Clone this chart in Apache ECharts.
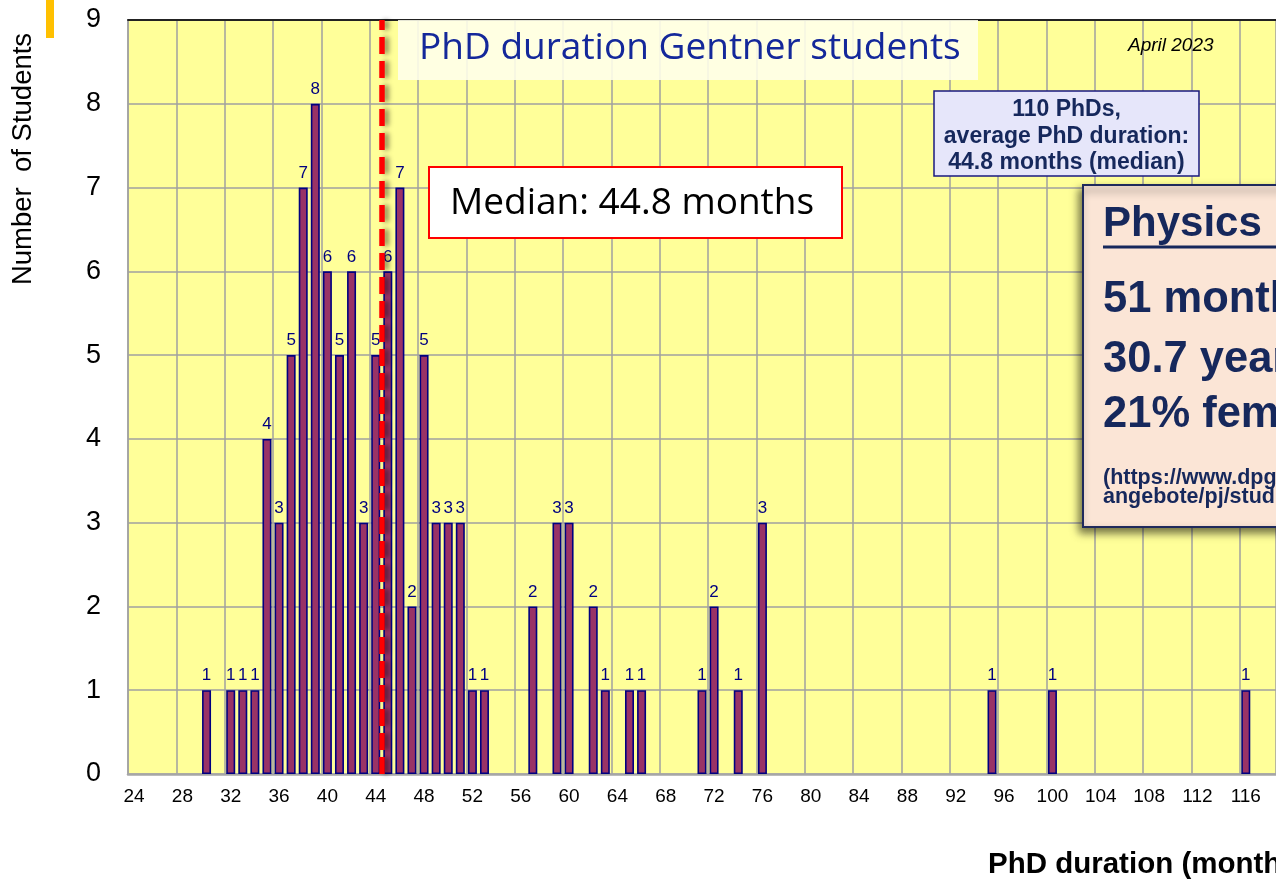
<!DOCTYPE html>
<html>
<head>
<meta charset="utf-8">
<script src="https://cdn.jsdelivr.net/npm/echarts@6/dist/echarts.min.js"></script>
<style>
html,body{margin:0;padding:0;background:#ffffff;}
#chart{width:1276px;height:881px;}
</style>
</head>
<body>
<div id="chart"></div>
<script>
// ---- data ----
const durationMonths = [30,32,33,34,35,36,37,38,39,40,41,42,43,44,45,46,47,48,49,50,51,52,53,57,59,60,62,63,65,66,71,72,74,76,95,100,116];
const studentCounts  = [1, 1, 1, 1, 4, 3, 5, 7, 8, 6, 5, 6, 3, 5, 6, 7, 2, 5, 3, 3, 3, 1, 1, 2, 3, 3, 2, 1, 1, 1, 1, 2, 1, 3, 1, 1, 1];
const axisFirstMonth = 24;
const axisLastMonth = 118;
const xLabelEvery = 4;
const yMax = 9;
const yStep = 1;
const medianLinePosition = 44.5;

const titleText = 'PhD duration Gentner students';
const medianText = 'Median: 44.8 months';
const dateText = 'April 2023';
const summaryLines = ['110 PhDs,', 'average PhD duration:', '44.8 months (median)'];
const physicsHeading = 'Physics';
const physicsLines = ['51 months', '30.7 years', '21% female'];
const sourceLines = ['(https://www.dpg-physik.de/', 'angebote/pj/studienstatistik)'];
const yAxisTitle = 'Number  of Students';
const xAxisTitle = 'PhD duration (months)';

// ---- build category table ----
const categories = [];
for (let m = axisFirstMonth; m <= axisLastMonth; m++) categories.push(String(m));
const barValues = categories.map(c => {
  const i = durationMonths.indexOf(Number(c));
  return i >= 0 ? studentCounts[i] : null;
});

const ARIAL = "'Liberation Sans', Arial, sans-serif";
const navy = '#16285c';

const chart = echarts.init(document.getElementById('chart'), null, {renderer: 'canvas'});

const option = {
  animation: false,
  backgroundColor: '#ffffff',
  grid: {
    left: 128, top: 20, right: -2, bottom: 107,
    show: true, backgroundColor: '#FFFF99', borderWidth: 0,
    containLabel: false
  },
  xAxis: [
    {
      type: 'category',
      data: categories,
      position: 'bottom',
      boundaryGap: true,
      axisLine: {show: true, onZero: false, lineStyle: {color: '#A6A6A6', width: 2.5}},
      axisTick: {show: false},
      axisLabel: {
        interval: xLabelEvery - 1, fontSize: 19, color: '#000', fontFamily: ARIAL, margin: 13
      },
      splitLine: {show: true, interval: xLabelEvery - 1, lineStyle: {color: '#A0A0A0', width: 1.5}}
    },
    {
      type: 'value',
      position: 'top',
      min: axisFirstMonth - 0.5,
      max: axisLastMonth + 0.5,
      axisLine: {show: true, onZero: false, lineStyle: {color: '#222', width: 2}},
      axisTick: {show: false},
      axisLabel: {show: false},
      splitLine: {show: false}
    }
  ],
  yAxis: {
    type: 'value',
    min: 0, max: yMax, interval: yStep,
    axisLine: {show: true, lineStyle: {color: '#A0A0A0', width: 1.5}},
    axisTick: {show: false},
    axisLabel: {fontSize: 27, color: '#000', fontFamily: ARIAL, margin: 27},
    splitLine: {show: true, lineStyle: {color: '#A0A0A0', width: 1.5}}
  },
  series: [
    {
      type: 'bar',
      xAxisIndex: 0,
      data: barValues,
      barWidth: 9,
      z: 3,
      itemStyle: {color: '#993366', borderColor: '#000080', borderWidth: 1.6},
      label: {
        show: true, position: 'top', distance: 6,
        color: '#000080', fontSize: 17, fontFamily: ARIAL
      }
    },
    {
      type: 'line',
      xAxisIndex: 1,
      data: [[medianLinePosition, 0]],
      showSymbol: false,
      symbol: 'none',
      lineStyle: {width: 0},
      z: 6,
      markLine: {
        silent: true,
        symbol: ['none', 'none'],
        label: {show: false},
        lineStyle: {
          color: '#FF0000', width: 5.5, type: [17, 7],
          shadowColor: 'rgba(0,0,0,0.45)', shadowBlur: 5, shadowOffsetX: 4
        },
        data: [{xAxis: medianLinePosition}]
      }
    }
  ],
  graphic: [
    {type: 'rect', left: 46, top: 0, shape: {width: 8, height: 38}, style: {fill: '#FFC000'}, z: 10},
    {
      type: 'text', x: 23, y: 159, rotation: Math.PI / 2, z: 10,
      style: {text: yAxisTitle, font: "27.5px 'Liberation Sans', Arial", fill: '#000', align: 'center', verticalAlign: 'middle'}
    },
    {type: 'rect', shape: {x: 398, y: 20, width: 580, height: 60}, style: {fill: 'rgba(255,255,236,0.88)'}, z: 10},
    {
      type: 'text', x: 419, y: 48, z: 11,
      style: {text: titleText, font: "37px 'Open Sans', sans-serif", fill: '#14289a', align: 'left', verticalAlign: 'middle'}
    },
    {type: 'rect', shape: {x: 429, y: 167, width: 413, height: 71}, style: {fill: '#ffffff', stroke: '#FF0000', lineWidth: 2}, z: 10},
    {
      type: 'text', x: 450, y: 203, z: 11,
      style: {text: medianText, font: "37px 'Open Sans', sans-serif", fill: '#000', align: 'left', verticalAlign: 'middle'}
    },
    {
      type: 'text', x: 1128, y: 46, z: 11,
      style: {text: dateText, font: "italic 19px 'Liberation Sans', Arial", fill: '#000', align: 'left', verticalAlign: 'middle'}
    },
    {type: 'rect', shape: {x: 934, y: 91, width: 265, height: 85}, style: {fill: '#E6E6FA', stroke: '#1a1a80', lineWidth: 1.5}, z: 10},
    {
      type: 'text', x: 1066.5, y: 136.5, z: 11,
      style: {text: summaryLines.join('\n'), font: "bold 23px 'Liberation Sans', Arial", lineHeight: 26.5, fill: navy, align: 'center', verticalAlign: 'middle'}
    },
    {
      type: 'rect', shape: {x: 1083, y: 185, width: 230, height: 342}, z: 10,
      style: {fill: '#FBE5D6', stroke: '#1F2A5C', lineWidth: 2, shadowColor: 'rgba(0,0,0,0.55)', shadowBlur: 8, shadowOffsetX: -3, shadowOffsetY: 5}
    },
    {
      type: 'text', x: 1103, y: 224, z: 11,
      style: {text: physicsHeading, font: "bold 42px 'Liberation Sans', Arial", fill: navy, align: 'left', verticalAlign: 'middle'}
    },
    {type: 'line', shape: {x1: 1103, y1: 247, x2: 1300, y2: 247}, style: {stroke: navy, lineWidth: 3}, z: 11},
    {
      type: 'text', x: 1103, y: 300, z: 11,
      style: {text: physicsLines[0], font: "bold 43.5px 'Liberation Sans', Arial", fill: navy, align: 'left', verticalAlign: 'middle'}
    },
    {
      type: 'text', x: 1103, y: 360, z: 11,
      style: {text: physicsLines[1], font: "bold 43.5px 'Liberation Sans', Arial", fill: navy, align: 'left', verticalAlign: 'middle'}
    },
    {
      type: 'text', x: 1103, y: 415, z: 11,
      style: {text: physicsLines[2], font: "bold 43.5px 'Liberation Sans', Arial", fill: navy, align: 'left', verticalAlign: 'middle'}
    },
    {
      type: 'text', x: 1103, y: 488, z: 11,
      style: {text: sourceLines.join('\n'), font: "bold 21.5px 'Liberation Sans', Arial", lineHeight: 19, fill: navy, align: 'left', verticalAlign: 'middle'}
    },
    {
      type: 'text', x: 988, y: 865, z: 11,
      style: {text: xAxisTitle, font: "bold 29.5px 'Liberation Sans', Arial", fill: '#000', align: 'left', verticalAlign: 'middle'}
    }
  ]
};
chart.setOption(option);
</script>
</body>
</html>
